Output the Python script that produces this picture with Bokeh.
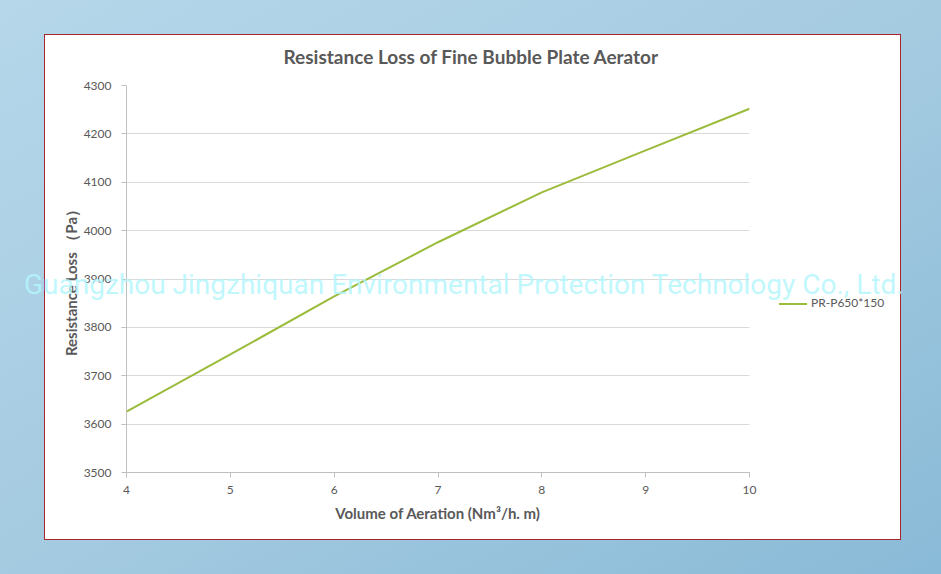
from bokeh.plotting import figure
from bokeh.models import FixedTicker, Range1d, Div
from bokeh.layouts import column
from bokeh.embed import file_html
from bokeh.resources import INLINE

# ---- data ----
aeration = [4, 5, 6, 7, 8, 9, 10]
resistance = [3626, 3744, 3864, 3976, 4079, 4166, 4252]
series_name = "PR-P650*150"
series_color = "#9bbb3b"
x_ticks = [4, 5, 6, 7, 8, 9, 10]
y_ticks = [3500, 3600, 3700, 3800, 3900, 4000, 4100, 4200, 4300]
title_text = "Resistance Loss of Fine Bubble Plate Aerator"
x_title = "Volume of Aeration (Nm³/h. m)"
y_title = "Resistance Loss （Pa）"
watermark = "Guangzhou Jingzhiquan Environmental Protection Technology Co., Ltd."

W, H = 941, 574
bg = ("linear-gradient(#ffffff,#ffffff) 45px 35px / 855px 504px no-repeat, "
      "linear-gradient(#a6262b,#a6262b) 44px 34px / 857px 506px no-repeat, "
      "linear-gradient(150deg, #b6d7ea 0%, #a5cbe1 50%, #89bad7 100%)")

p = figure(width=W, height=H, output_backend="svg", toolbar_location=None,
           x_range=Range1d(4, 10), y_range=Range1d(3500, 4300),
           min_border_left=126, min_border_right=192, min_border_top=85, min_border_bottom=102,
           styles={"background": bg})
p.border_fill_color = None
p.background_fill_color = None
p.outline_line_color = None

r = p.line(aeration, resistance, line_color=series_color, line_width=2)

# axes
for ax in (p.xaxis, p.yaxis):
    ax.axis_line_color = "#bfbfbf"
    ax.major_tick_line_color = "#bfbfbf"
    ax.major_tick_out = 5
    ax.major_tick_in = 0
    ax.minor_tick_line_color = None
    ax.major_label_text_font = "Lato"
    ax.major_label_text_font_size = "12px"
    ax.major_label_text_color = "#595959"
    ax.axis_label_text_font = "Lato"
    ax.axis_label_text_font_style = "bold"
    ax.axis_label_text_font_size = "15px"
    ax.axis_label_text_color = "#595959"
p.xaxis.ticker = FixedTicker(ticks=x_ticks)
p.yaxis.ticker = FixedTicker(ticks=y_ticks)
p.xaxis.axis_label = x_title
p.yaxis.axis_label = y_title
p.xaxis.major_label_standoff = 8
p.yaxis.major_label_standoff = 10
p.xaxis.axis_label_standoff = 7
p.yaxis.axis_label_standoff = 1

p.xgrid.grid_line_color = None
p.ygrid.grid_line_color = "#d9d9d9"

# title (built-in)
p.title.text = title_text
p.title.align = "left"
p.title.offset = 157
p.title.standoff = 35
p.title.text_font = "Lato"
p.title.text_font_style = "bold"
p.title.text_font_size = "19px"
p.title.text_color = "#595959"

# legend (HTML overlay)
legend_html = ('<span style="display:inline-block;width:28px;height:0;border-top:2px solid %s;'
               'vertical-align:middle;margin-right:4px"></span>%s' % (series_color, series_name))
lg = Div(text=legend_html, width=120, height=14,
         styles={"position": "absolute", "left": "774px", "top": "291px",
                 "font-family": "Lato", "font-size": "12px", "color": "#595959",
                 "white-space": "nowrap", "line-height": "14px", "z-index": "9"})

# watermark overlay
wm = Div(text=watermark, width=900, height=28,
         styles={"position": "absolute", "left": "19px", "top": "266px",
                 "font-family": "Roboto", "font-size": "28px",
                 "color": "rgba(180,246,252,0.85)", "white-space": "nowrap",
                 "pointer-events": "none", "z-index": "10", "line-height": "28px"})

root = column(p, lg, wm)
open("out.html", "w").write(file_html(root, INLINE))
